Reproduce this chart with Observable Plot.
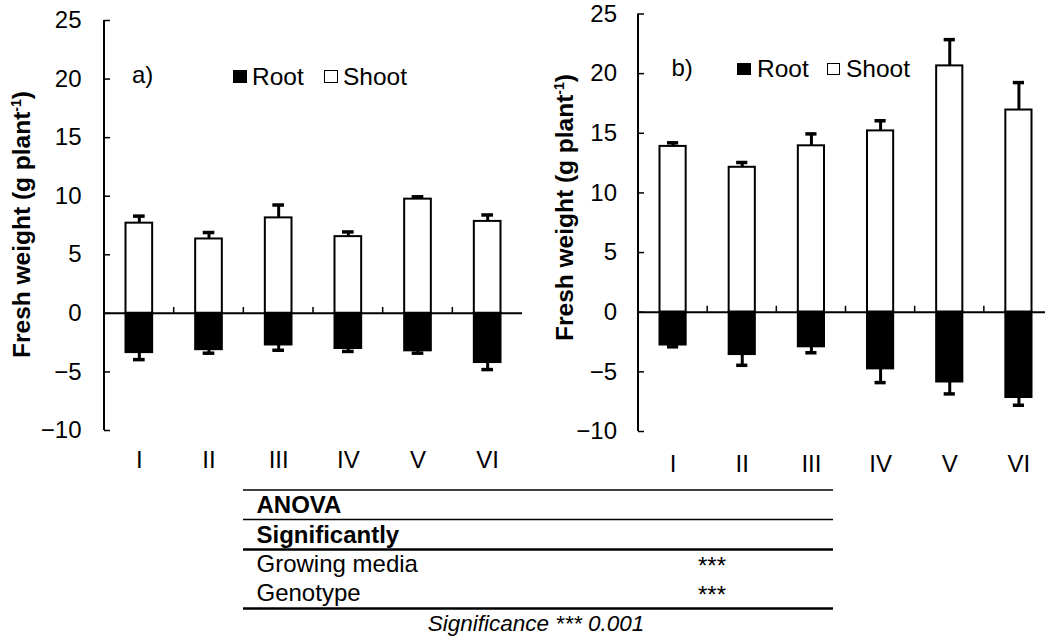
<!DOCTYPE html>
<html>
<head>
<meta charset="utf-8">
<script src="https://cdn.jsdelivr.net/npm/d3@7"></script>
<script src="https://cdn.jsdelivr.net/npm/@observablehq/plot@0.6"></script>
<style>
  html, body { margin: 0; padding: 0; background: #fff; overflow: hidden; }
  #row { display: flex; width: 1045px; height: 480px; overflow: hidden; }
  #chartA { flex: none; width: 530px; height: 480px; }
  #chartB { flex: none; width: 531px; height: 480px; }
  #row svg { max-width: none !important; }
  #table { display: block; }
</style>
</head>
<body>
<div id="row">
  <div id="chartA"></div>
  <div id="chartB"></div>
</div>
<svg id="table" width="1045" height="157"></svg>
<script>
// ---- data ----
const categories = ["I", "II", "III", "IV", "V", "VI"];
const yTicks = [-10, -5, 0, 5, 10, 15, 20, 25];

const shootA    = [7.7, 6.35, 8.15, 6.55, 9.75, 7.85];
const shootAErr = [0.6, 0.55, 1.1, 0.4, 0.2, 0.55];
const rootA     = [-3.35, -3.1, -2.7, -3.0, -3.2, -4.2];
const rootAErr  = [0.6, 0.3, 0.45, 0.25, 0.2, 0.6];

const shootB    = [13.9, 12.15, 13.95, 15.2, 20.65, 16.95];
const shootBErr = [0.3, 0.4, 1.0, 0.85, 2.2, 2.3];
const rootB     = [-2.75, -3.55, -2.9, -4.75, -5.85, -7.15];
const rootBErr  = [0.15, 0.9, 0.5, 1.15, 1.0, 0.65];

const legendLabels = ["Root", "Shoot"];
const panelLabels = ["a)", "b)"];
const yTitle = "Fresh weight (g plant";
const tableRows = ["ANOVA", "Significantly", "Growing media", "Genotype"];
const tableMarks = ["***", "***"];
const tableNote = "Significance *** 0.001";

const fontFamily = "'Liberation Sans', Arial, Helvetica, sans-serif";

function makeChart({shoot, shootErr, root, rootErr, marginLeft, marginTop, width, frameBottom, yPad, xPad}) {
  const marginRight = 8, height = 480;
  const shootData = categories.map((c, i) => ({cat: c, v: shoot[i], e: shoot[i] + shootErr[i]}));
  const rootData = categories.map((c, i) => ({cat: c, v: root[i], e: root[i] - rootErr[i]}));
  const step = (width - marginLeft - marginRight) / categories.length;
  const yMin = d3.min(yTicks), yMax = d3.max(yTicks);
  return Plot.plot({
    width, height, marginLeft, marginRight, marginTop, marginBottom: height - frameBottom,
    style: {fontFamily, fontSize: "24px", color: "black", background: "white"},
    x: {domain: categories, padding: 0, round: false, label: null},
    y: {domain: [yMin, yMax], label: null},
    marks: [
      // error bars (one-sided)
      Plot.ruleX(shootData, {x: "cat", y1: "v", y2: "e", strokeWidth: 3, stroke: "black"}),
      Plot.tickY(shootData, {x: "cat", y: "e", strokeWidth: 3.5, stroke: "black", insetLeft: 29, insetRight: 29}),
      Plot.ruleX(rootData, {x: "cat", y1: "v", y2: "e", strokeWidth: 3, stroke: "black"}),
      Plot.tickY(rootData, {x: "cat", y: "e", strokeWidth: 3.5, stroke: "black", insetLeft: 29, insetRight: 29}),
      // bars
      Plot.barY(shootData, {x: "cat", y: "v", fill: "white", stroke: "black", strokeWidth: 2, insetLeft: 21.5, insetRight: 21.5}),
      Plot.barY(rootData, {x: "cat", y: "v", fill: "black", stroke: "black", strokeWidth: 2, insetLeft: 21.5, insetRight: 21.5}),
      // zero line and category separators
      Plot.ruleY([0], {strokeWidth: 2, stroke: "black"}),
      Plot.barY(categories.slice(1), {x: d => d, y1: 0, y2: 0.5, fill: "black", insetLeft: -0.75, insetRight: step - 0.75}),
      // y axis line and inward ticks
      Plot.barY(categories.slice(0, 1), {x: d => d, y1: yMin, y2: yMax, fill: "black", insetLeft: -1, insetRight: step - 1}),
      Plot.tickY(yTicks, {x: () => categories[0], y: d => d, stroke: "black", strokeWidth: 1.5, insetLeft: 0, insetRight: step - 6}),
      Plot.axisY({ticks: yTicks, tickSize: 0, tickPadding: yPad, label: null}),
      Plot.axisX({tickSize: 0, tickPadding: xPad, label: null})
    ]
  });
}

const chartA = makeChart({
  shoot: shootA, shootErr: shootAErr, root: rootA, rootErr: rootAErr,
  marginLeft: 104, marginTop: 20, width: 530, frameBottom: 430, yPad: 23, xPad: 20
});
const chartB = makeChart({
  shoot: shootB, shootErr: shootBErr, root: rootB, rootErr: rootBErr,
  marginLeft: 108, marginTop: 13.5, width: 531, frameBottom: 431, yPad: 21.5, xPad: 23
});
document.getElementById("chartA").appendChild(chartA);
document.getElementById("chartB").appendChild(chartB);

// ---- annotations appended inside each svg (no overlapping layers) ----
function adder(svg, ox, oy) {
  const g = d3.select(svg).append("g")
    .attr("transform", `translate(${-ox},${-oy})`)
    .attr("font-family", fontFamily).attr("text-anchor", "start").attr("fill", "black");
  return function (tag, attrs, text) {
    const e = g.append(tag);
    for (const k in attrs) e.attr(k, attrs[k]);
    if (text != null) e.text(text);
    return e;
  };
}

function yTitleAt(add, x, y) {
  const t = add("text", {transform: `translate(${x},${y}) rotate(-90)`, "text-anchor": "middle",
    "font-size": 24.5, "font-weight": "bold", fill: "black"});
  t.append("tspan").text(yTitle);
  t.append("tspan").attr("font-size", 14).attr("dy", -9).text("-1");
  t.append("tspan").attr("dy", 9).text(")");
}

function legend(add, p, labelX, labelY, blackSq, whiteSq, rootX, shootX, textY) {
  add("text", {x: labelX, y: labelY, "font-size": 24}, panelLabels[p]);
  add("rect", {...blackSq, fill: "black"});
  add("text", {x: rootX, y: textY, "font-size": 24.5}, legendLabels[0]);
  add("rect", {...whiteSq, fill: "white", stroke: "black", "stroke-width": 1});
  add("text", {x: shootX, y: textY, "font-size": 24.5}, legendLabels[1]);
}

const addA = adder(chartA, 0, 0);
yTitleAt(addA, 30, 224.5);
legend(addA, 0, 132, 83, {x: 233, y: 70, width: 14, height: 13},
  {x: 324.5, y: 70.5, width: 13, height: 12}, 252, 343, 85);

const addB = adder(chartB, 530, 0);
yTitleAt(addB, 573, 207.5);
legend(addB, 1, 671.5, 76, {x: 737, y: 63, width: 14, height: 12},
  {x: 827.5, y: 63.5, width: 12, height: 11}, 757, 846, 76.5);

// ---- ANOVA table (its own svg below the charts) ----
const addT = adder(document.getElementById("table"), 0, 480);
const tx1 = 243, tx2 = 833;
[[490, 1.5], [519.5, 1.5], [549.5, 2.5], [608.5, 2.5]].forEach(([y, w]) =>
  addT("line", {x1: tx1, x2: tx2, y1: y, y2: y, stroke: "black", "stroke-width": w}));
addT("text", {x: 256.5, y: 513, "font-size": 24, "font-weight": "bold"}, tableRows[0]);
addT("text", {x: 256.5, y: 543, "font-size": 24, "font-weight": "bold"}, tableRows[1]);
addT("text", {x: 256.5, y: 572, "font-size": 24}, tableRows[2]);
addT("text", {x: 256.5, y: 601, "font-size": 24}, tableRows[3]);
addT("text", {x: 698, y: 574, "font-size": 24}, tableMarks[0]);
addT("text", {x: 698, y: 603, "font-size": 24}, tableMarks[1]);
addT("text", {x: 536, y: 631, "font-size": 22.5, "font-style": "italic", "text-anchor": "middle"}, tableNote);
</script>
</body>
</html>
